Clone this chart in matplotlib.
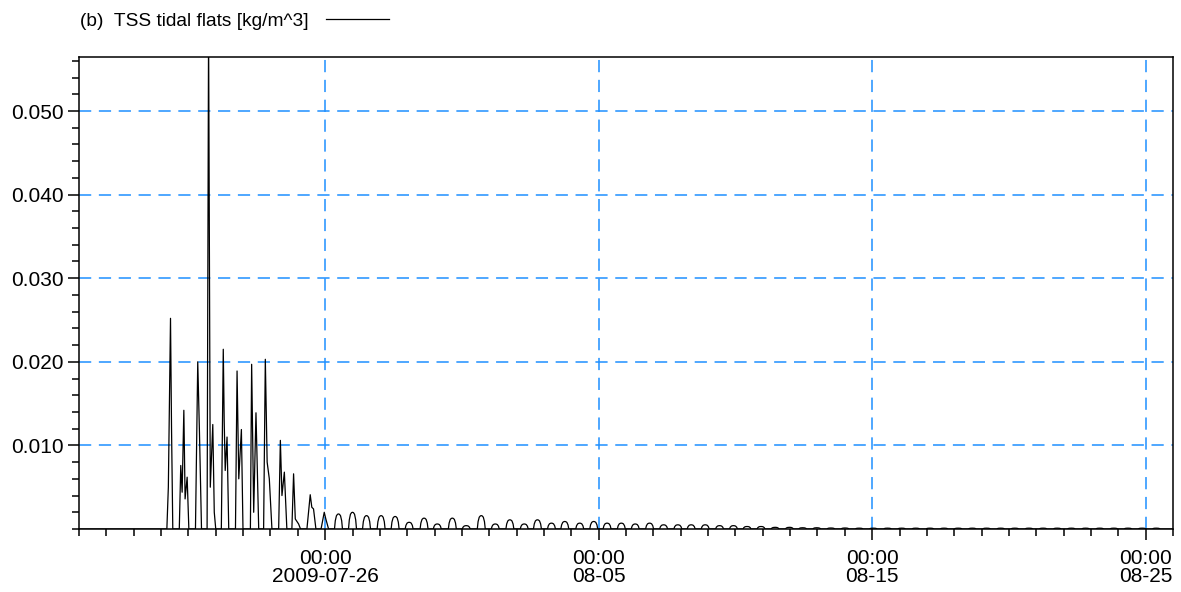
import matplotlib
import numpy as np
import pandas as pd

# Non-interactive backend, the figure is only written to disk.
matplotlib.use("Agg")
import matplotlib.pyplot as plt
import matplotlib.dates as mdates
from matplotlib.ticker import MultipleLocator, FormatStrFormatter


START = pd.Timestamp("2009-07-17 00:00")
END = pd.Timestamp("2009-08-26 00:00")

# Spring-tide resuspension event: hours after START and TSS [kg/m^3] at each vertex
event_hours = [
    0.0, 77.1, 78.4, 80.3, 81.2, 82.3,
    88.0, 89.3, 90.5, 92.0, 93.1, 94.9, 96.4,
    102.2, 104.2, 105.7, 107.5,
    112.4, 113.7, 115.2, 117.4, 118.7, 120.0,
    124.9, 126.6, 127.4, 128.3, 129.9, 131.4,
    137.3, 138.7, 140.2, 142.5, 143.9,
    150.4, 151.5, 153.3, 155.3, 157.7,
    162.0, 163.5, 165.1, 167.0, 169.3,
    175.2, 176.7, 178.1, 180.2, 182.4,
    186.8, 188.3, 189.8, 192.7, 194.4,
    200.0, 202.9, 204.3, 205.8, 207.9,
    212.4, 215.2, 216.6, 219.0,
]
event_tss = [
    0.0, 0.0, 0.0050, 0.0252, 0.0120, 0.0,
    0.0, 0.0076, 0.0044, 0.0142, 0.0036, 0.0062, 0.0,
    0.0, 0.0200, 0.0116, 0.0,
    0.0, 0.0600, 0.0050, 0.0125, 0.0020, 0.0,
    0.0, 0.0215, 0.0130, 0.0070, 0.0110, 0.0,
    0.0, 0.0189, 0.0060, 0.0119, 0.0,
    0.0, 0.0197, 0.0020, 0.0139, 0.0,
    0.0, 0.0203, 0.0080, 0.0060, 0.0,
    0.0, 0.0106, 0.0040, 0.0068, 0.0,
    0.0, 0.0066, 0.0012, 0.0006, 0.0,
    0.0, 0.0041, 0.0026, 0.0024, 0.0,
    0.0, 0.0020, 0.0012, 0.0,
]

# Later tidal cycles: hour of each crest and its TSS value
crest_hours = [
    227.7, 240.0, 252.3, 265.1, 277.4, 289.7, 302.8, 314.4, 327.6, 339.8,
    353.0, 365.3, 378.1, 390.7, 402.3, 414.6, 426.3, 439.4, 451.7, 463.4,
    475.9, 488.1, 500.7, 513.0, 525.5, 537.2, 549.5, 562.1, 574.3, 586.2,
    598.5, 610.8, 623.4, 635.0, 647.4, 659.8, 672.2, 684.6, 697.0, 709.5,
    721.9, 734.3, 746.7, 759.1, 771.5, 783.9, 796.4, 808.8, 821.2, 833.6,
    846.0, 858.4, 870.8, 883.3, 895.7, 908.1, 920.5, 932.9, 945.3,
]
crest_tss = [
    0.0018, 0.0020, 0.0016, 0.0016, 0.0015, 0.0008, 0.0013, 0.0006, 0.0013, 0.0004,
    0.0016, 0.0006, 0.0011, 0.0006, 0.0011, 0.0007, 0.0009, 0.0007, 0.0009, 0.0007,
    0.0007, 0.0006, 0.0007, 0.0005, 0.0005, 0.0005, 0.0005, 0.0004, 0.0004, 0.0003,
    0.0003, 0.0002, 0.0002, 0.00015, 0.00015, 0.00012, 0.00012, 0.0001, 0.0001, 0.0001,
    0.0001, 0.0001, 0.0001, 0.0001, 0.0001, 0.0001, 0.0001, 0.0001, 0.0001, 0.0001,
    0.0001, 0.0001, 0.0001, 0.0001, 0.0001, 0.0001, 0.0001, 0.0001, 0.0001,
]
# outline of one small hump around its crest: hour offset and share of the crest value
hump_offsets = [-3.5, -2.8, -1.8, -0.8, 0.0, 0.8, 1.8, 2.8, 3.5]
hump_share = [0.0, 0.55, 0.88, 0.98, 1.0, 0.98, 0.88, 0.55, 0.0]

tick_dates = ["2009-07-26", "2009-08-05", "2009-08-15", "2009-08-25"]
tick_labels = ["00:00\n2009-07-26", "00:00\n08-05", "00:00\n08-15", "00:00\n08-25"]

GRID_BLUE = "#1e8fff"


def build_series():
    hours = list(event_hours)
    values = list(event_tss)
    for c, v in zip(crest_hours, crest_tss):
        hours += [c + o for o in hump_offsets]
        values += [v * s for s in hump_share]
    hours.append((END - START) / pd.Timedelta(hours=1))
    values.append(0.0)
    times = START + pd.to_timedelta(hours, unit="h")
    return times, np.array(values)


def main():
    plt.rcParams["font.family"] = ["Liberation Sans", "DejaVu Sans"]

    times, tss = build_series()

    fig = plt.figure(figsize=(11.81, 5.92), dpi=100)
    ax = fig.add_axes([79 / 1181, 1 - 529 / 592, 1094 / 1181, 472 / 592])

    line, = ax.plot(times, tss, color="black", linewidth=0.9, zorder=3)

    ax.set_xlim(START, END)
    ax.set_ylim(0, 0.05646)

    ax.set_xticks(pd.to_datetime(tick_dates))
    ax.set_xticklabels(tick_labels, linespacing=0.95)
    ax.xaxis.set_minor_locator(mdates.DayLocator())
    ax.yaxis.set_major_locator(MultipleLocator(0.01))
    ax.yaxis.set_minor_locator(MultipleLocator(0.002))
    ax.yaxis.set_major_formatter(FormatStrFormatter("%.3f"))
    ax.set_yticks([0.01, 0.02, 0.03, 0.04, 0.05])

    ax.tick_params(axis="both", which="major", direction="out", length=8,
                   width=1.1, labelsize=15, colors="black")
    ax.tick_params(axis="both", which="minor", direction="out", length=5, width=1.1)
    ax.tick_params(axis="x", which="major", pad=6.5)
    ax.tick_params(axis="y", which="major", pad=3)

    ax.grid(True, which="major", color=GRID_BLUE, linewidth=1.1,
            linestyle=(0, (8, 5)), zorder=1)
    for side in ax.spines.values():
        side.set_linewidth(1.1)
        side.set_zorder(4)

    fig.legend([line], ["(b)  TSS tidal flats [kg/m^3]"], loc="center left",
               bbox_to_anchor=(80 / 1181, 1 - 21 / 592), frameon=False,
               markerfirst=False, handlelength=3.3, handletextpad=0.9,
               borderpad=0, borderaxespad=0, fontsize=13.8)

    fig.savefig("out.png", dpi=100)


if __name__ == "__main__":
    main()
